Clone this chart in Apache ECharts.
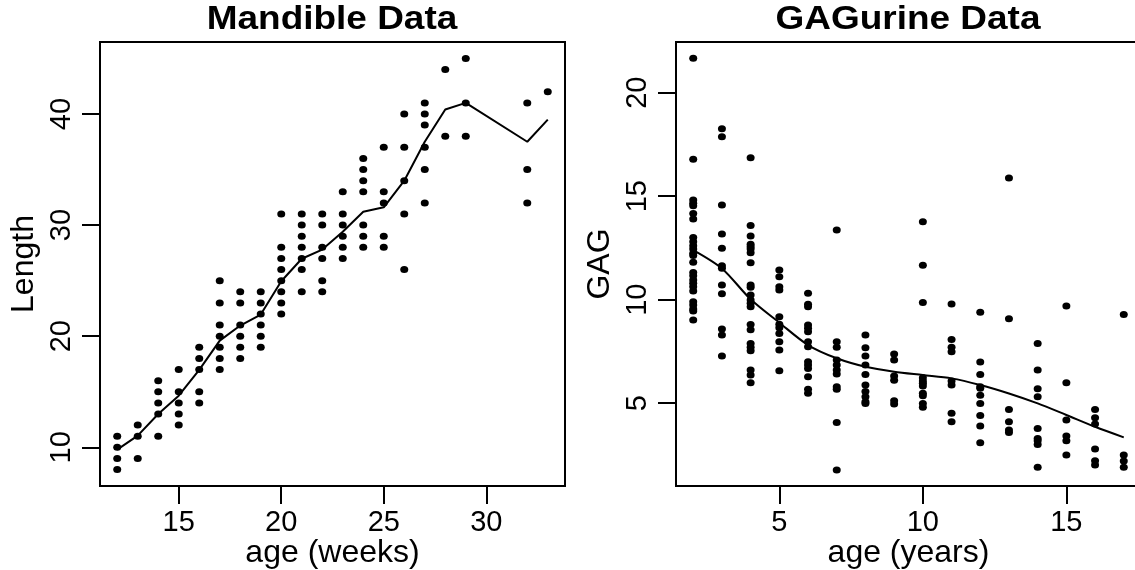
<!DOCTYPE html>
<html><head><meta charset="utf-8">
<script src="https://cdn.jsdelivr.net/npm/echarts@6/dist/echarts.min.js"></script>
<style>html,body{margin:0;padding:0;background:#fff}#c{width:1135px;height:570px}</style>
</head><body><div id="c"></div>
<script>
// ---- Mandible data ----
const mandAges = [12,13,14,15,16,17,18,19,20,21,22,23,24,25,26,27,28,29,32,33];
const mandLengths = [
  [11,10,9,8],
  [12,11,9],
  [16,15,14,13,11],
  [17,15,14,13,12],
  [19,18,17,15,14],
  [25,23,21,20,19,18,17],
  [24,23,21,20,19,18],
  [24,23,22,21,20,19],
  [31,28,27,26,25,24,23,22],
  [31,30,29,28,27,26,24],
  [31,30,28,27,25,24],
  [33,31,30,29,28,27],
  [36,35,34,33,30,29,28],
  [37,33,32,29,28],
  [40,37,34,31,26],
  [41,40,39,37,35,32],
  [44,38],
  [45,41,38],
  [41,35,32],
  [42]
];
const mandFit = [9.8,11.05,13.0,14.65,16.97,19.6,20.96,21.95,24.95,26.97,27.8,29.4,31.2,31.6,34.0,37.5,40.4,41.0,37.5,39.5];
const mandXTicks = [15,20,25,30];
const mandYTicks = [10,20,30,40];

// ---- GAGurine data ----
const gagAges = [2,3,4,5,6,7,8,9,10,11,12,13,14,15,16,17];
const gagValues = [
  [21.66,16.78,14.82,14.66,14.54,14.17,13.9,13.0,12.8,12.61,12.45,12.24,12.13,11.81,11.32,11.16,10.95,10.79,10.63,10.42,9.9,9.74,9.55,9.45,9.02],
  [18.26,17.87,14.57,13.17,12.48,11.64,11.52,10.71,10.29,8.58,8.29,7.28],
  [16.86,13.58,13.08,12.68,12.56,12.45,12.27,11.79,10.71,10.6,10.23,9.99,9.83,9.66,8.8,8.55,7.89,7.7,7.54,6.6,6.36,5.99],
  [11.43,11.11,10.63,10.47,9.18,8.81,8.65,8.37,7.97,7.57,6.57],
  [10.31,9.78,9.66,8.78,8.62,8.45,7.97,7.73,7.0,6.84,6.68,6.28,5.67,5.48],
  [13.37,7.97,7.7,7.09,6.84,6.6,6.41,5.8,5.67,4.07,1.77],
  [8.29,7.68,7.28,6.84,6.39,5.88,5.56,5.31,5.07,4.99],
  [7.38,7.09,6.31,6.11,5.12,4.96],
  [13.77,11.67,9.87,6.23,6.07,5.96,5.83,5.48,5.36,4.99,4.8],
  [9.79,8.08,7.7,7.49,6.07,5.88,4.51,4.11],
  [9.39,6.99,6.39,5.8,5.72,5.39,4.99,4.4,3.9,3.09],
  [15.88,9.08,4.7,4.11,3.7,3.59],
  [7.89,6.6,5.7,5.31,3.78,3.3,3.19,3.01,1.9],
  [9.69,5.99,4.19,3.41,3.19,2.5],
  [4.69,4.3,3.99,2.79,2.22,2.01],
  [9.29,2.5,2.21,1.9]
];
const gagFit = [12.4,11.51,10.02,8.89,7.81,7.17,6.76,6.52,6.36,6.2,5.88,5.47,4.99,4.43,3.86,3.35];
const gagXTicks = [5,10,15];
const gagYTicks = [5,10,15,20];

// ---- build ----
function pts(xs, groups){ const out=[]; xs.forEach((x,i)=>groups[i].forEach(v=>out.push([x,v]))); return out; }
function line(xs, ys){ return xs.map((x,i)=>[x,ys[i]]); }

const FONT = '"Liberation Sans", Arial, Helvetica, sans-serif';
const tickFont = 29, nameFont = 32;

function xAx(gi, min, max, ticks, name){
  return {
    type:'value', gridIndex:gi, min:min, max:max,
    name:name, nameLocation:'middle', nameGap:51, nameMoveOverlap:false,
    nameTextStyle:{fontFamily:FONT, fontSize:nameFont, color:'#000'},
    axisLine:{show:false},
    axisTick:{show:true, inside:false, length:18, customValues:ticks, lineStyle:{color:'#000', width:2}},
    axisLabel:{customValues:ticks, fontFamily:FONT, fontSize:tickFont, color:'#000', margin:22},
    splitLine:{show:false}
  };
}
function yAx(gi, min, max, ticks, name, gap){
  return {
    type:'value', gridIndex:gi, min:min, max:max,
    name:name, nameLocation:'middle', nameGap:gap, nameRotate:90, nameMoveOverlap:false,
    nameTextStyle:{fontFamily:FONT, fontSize:nameFont, color:'#000'},
    axisLine:{show:false},
    axisTick:{show:true, inside:false, length:18, customValues:ticks, lineStyle:{color:'#000', width:2}},
    axisLabel:{customValues:ticks, rotate:90, fontFamily:FONT, fontSize:tickFont, color:'#000', margin:24},
    splitLine:{show:false}
  };
}

const chart = echarts.init(document.getElementById('c'), null, {renderer:'canvas'});
chart.setOption({
  animation:false,
  backgroundColor:'#fff',
  graphic:[
    {type:'text', x:332, y:20, scaleX:1.12, z:10,
     style:{text:'Mandible Data', fill:'#000', align:'center', verticalAlign:'middle',
            font:'bold 33px "Liberation Sans", Arial, sans-serif'}},
    {type:'text', x:908, y:20, scaleX:1.12, z:10,
     style:{text:'GAGurine Data', fill:'#000', align:'center', verticalAlign:'middle',
            font:'bold 33px "Liberation Sans", Arial, sans-serif'}}
  ],
  grid:[
    {left:100, top:42, width:465, height:444, outerBoundsMode:'none', show:true, borderColor:'#000', borderWidth:2, backgroundColor:'transparent', containLabel:false},
    {left:676, top:42, width:465, height:444, outerBoundsMode:'none', show:true, borderColor:'#000', borderWidth:2, backgroundColor:'transparent', containLabel:false}
  ],
  xAxis:[
    xAx(0, 11.16, 33.84, mandXTicks, 'age (weeks)'),
    xAx(1, 1.4, 17.6, gagXTicks, 'age (years)')
  ],
  yAxis:[
    yAx(0, 6.52, 46.48, mandYTicks, 'Length', 60),
    yAx(1, 1.0, 22.45, gagYTicks, 'GAG', 60)
  ],
  series:[
    {type:'scatter', xAxisIndex:0, yAxisIndex:0, data:pts(mandAges, mandLengths),
     symbol:'circle', symbolSize:[8,7], itemStyle:{color:'#000', opacity:1}},
    {type:'line', xAxisIndex:0, yAxisIndex:0, data:line(mandAges, mandFit),
     showSymbol:false, symbol:'none', lineStyle:{color:'#000', width:2}},
    {type:'scatter', xAxisIndex:1, yAxisIndex:1, data:pts(gagAges, gagValues),
     symbol:'circle', symbolSize:[8,7], itemStyle:{color:'#000', opacity:1}},
    {type:'line', xAxisIndex:1, yAxisIndex:1, data:line(gagAges, gagFit), smooth:0.3,
     showSymbol:false, symbol:'none', lineStyle:{color:'#000', width:2}}
  ]
});
</script>
</body></html>
